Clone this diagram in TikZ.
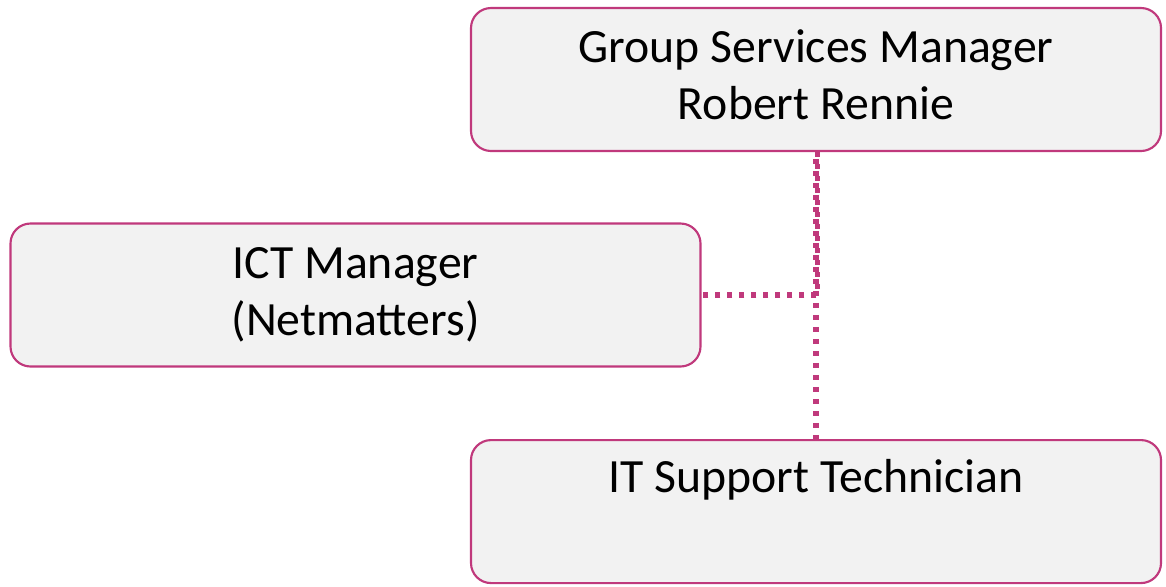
\documentclass[tikz,border=0pt]{standalone}
\usepackage{fontspec}
\setmainfont{Carlito}
\definecolor{rim}{RGB}{192,57,124}
\definecolor{boxfill}{RGB}{242,242,242}
\begin{document}
\begin{tikzpicture}[x=0.75pt,y=-0.75pt,
  label font/.style={font=\fontsize{35.8pt}{42.5pt}\selectfont,align=center,inner sep=0pt},
  orgbox/.style={draw=rim,line width=1.6pt,fill=boxfill,rounded corners=15pt,
    minimum width=690*0.75pt,minimum height=143*0.75pt,inner sep=0pt},
  link/.style={draw=rim,line width=4.2pt,dash pattern=on 3.9pt off 5.1pt}]
\useasboundingbox (0,0) rectangle (1166,586);
% boxes
\node[orgbox] (gsm) at (816,79.5) {};
\node[orgbox] (ict) at (355.5,295) {};
\node[orgbox,anchor=north] (its) at (816,439) {};
% box texts
\node[label font] (gsmt) at ([yshift=3.5pt]gsm.center) {Group Services Manager\\Robert Rennie};
\node[label font] (ictt) at (ict.center) {ICT Manager\\(Netmatters)};
\node[label font,anchor=north] (itst) at (816,459) {IT Support Technician};
% reporting lines
\coordinate (j) at (816,295);
\draw[link,dash phase=3.9pt] (gsm.south) -- (its.north);
\draw[link] ([xshift=1pt]gsm.south) -- ([xshift=1pt]j) -- (ict.east);
\end{tikzpicture}
\end{document}
